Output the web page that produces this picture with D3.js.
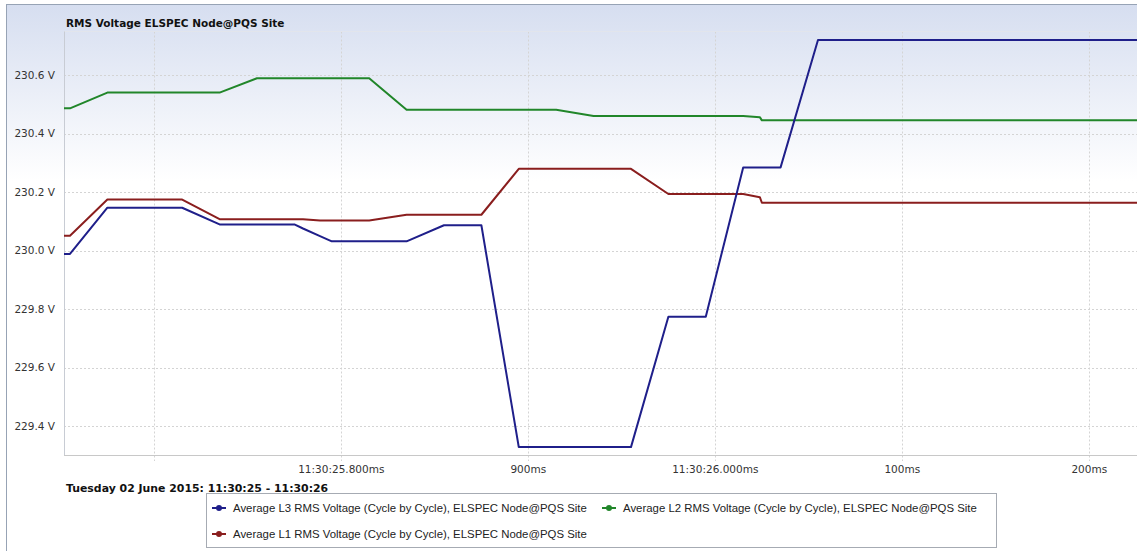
<!DOCTYPE html>
<html>
<head>
<meta charset="utf-8">
<script src="https://cdn.jsdelivr.net/npm/d3@7"></script>
<style>
  html, body { margin: 0; padding: 0; background: #fff; overflow: hidden; }
  #chart { width: 1137px; height: 551px; }
</style>
</head>
<body>
<div id="chart"></div>
<script>
////////////////////
// DATA (ms after 11:30:25, volts)

var times = [634.9, 654.9, 674.9, 694.9, 714.9, 734.9, 754.9, 774.9, 779.5, 788.6,
  794.9, 814.9, 834.9, 854.9, 874.9, 894.9, 914.9, 934.9, 954.9, 974.9,
  994.9, 1014.9, 1023.8, 1024.9, 1034.9, 1054.9, 1074.9, 1094.9, 1114.9, 1134.9,
  1154.9, 1174.9, 1194.9, 1214.9, 1234.9, 1254.9];

var l3Values = [229.989, 229.989, 230.147, 230.147, 230.147, 230.090, 230.090, 230.090, 230.076, 230.050,
  230.032, 230.032, 230.032, 230.087, 230.087, 229.328, 229.328, 229.328, 229.328, 229.774,
  229.774, 230.285, 230.285, 230.285, 230.285, 230.721, 230.721, 230.721, 230.721, 230.721,
  230.721, 230.721, 230.721, 230.721, 230.721, 230.721];

var l2Values = [230.487, 230.487, 230.541, 230.541, 230.541, 230.541, 230.590, 230.590, 230.590, 230.590,
  230.590, 230.590, 230.482, 230.482, 230.482, 230.482, 230.482, 230.461, 230.461, 230.461,
  230.461, 230.461, 230.457, 230.446, 230.446, 230.446, 230.446, 230.446, 230.446, 230.446,
  230.446, 230.446, 230.446, 230.446, 230.446, 230.446];

var l1Values = [230.051, 230.051, 230.175, 230.175, 230.175, 230.108, 230.108, 230.108, 230.108, 230.103,
  230.103, 230.103, 230.123, 230.123, 230.123, 230.280, 230.280, 230.280, 230.280, 230.194,
  230.194, 230.194, 230.183, 230.164, 230.164, 230.164, 230.164, 230.164, 230.164, 230.164,
  230.164, 230.164, 230.164, 230.164, 230.164, 230.164];

var yTicks = [229.4, 229.6, 229.8, 230.0, 230.2, 230.4, 230.6];
var xTicks = [700, 800, 900, 1000, 1100, 1200];
var xTickLabels = ["", "11:30:25.800ms", "900ms", "11:30:26.000ms", "100ms", "200ms"];

var seriesNames = [
  "Average L3 RMS Voltage (Cycle by Cycle), ELSPEC Node@PQS Site",
  "Average L2 RMS Voltage (Cycle by Cycle), ELSPEC Node@PQS Site",
  "Average L1 RMS Voltage (Cycle by Cycle), ELSPEC Node@PQS Site"
];
var seriesColors = ["#1f1f8a", "#21862a", "#8a1e1e"];

var title = "RMS Voltage ELSPEC Node@PQS Site";
var dateLabel = "Tuesday 02 June 2015: 11:30:25 - 11:30:26";

//////////////////
// LAYOUT
var w = 1137;
var h = 551;
var plot = {left: 64, right: 1137, top: 31.5, bottom: 455};
var axisFont = "'DejaVu Sans', Verdana, sans-serif";

var svg = d3.select("#chart")
  .append("svg")
  .attr("width", w)
  .attr("height", h);

var defs = svg.append("defs");
var grad = defs.append("linearGradient")
  .attr("id", "bg")
  .attr("x1", 0).attr("y1", 0)
  .attr("x2", 0).attr("y2", 1);
grad.append("stop").attr("offset", "0%").attr("stop-color", "#d6def0");
grad.append("stop").attr("offset", "32%").attr("stop-color", "#ffffff");
grad.append("stop").attr("offset", "100%").attr("stop-color", "#ffffff");

defs.append("clipPath").attr("id", "plotClip")
  .append("rect")
  .attr("x", plot.left)
  .attr("y", plot.top)
  .attr("width", plot.right - plot.left)
  .attr("height", plot.bottom - plot.top);

// outer frame
svg.append("rect")
  .attr("x", 6.5)
  .attr("y", 4.5)
  .attr("width", w)
  .attr("height", h)
  .attr("fill", "url(#bg)")
  .attr("stroke", "#97a3b5")
  .attr("stroke-width", 1);

//////////////////
// SCALES
var x = d3.scaleLinear()
  .domain([651.7, 1225.5])
  .range([plot.left, plot.right]);
var y = d3.scaleLinear()
  .domain([229.301, 230.750])
  .range([plot.bottom, plot.top]);

//////////////////
// GRID
var grid = svg.append("g");
grid.selectAll(".hgrid")
  .data(yTicks)
  .enter().append("line")
  .attr("x1", plot.left)
  .attr("x2", plot.right)
  .attr("y1", function(d) { return Math.round(y(d)) + 0.5; })
  .attr("y2", function(d) { return Math.round(y(d)) + 0.5; })
  .attr("stroke", "#d4d4d4")
  .attr("stroke-dasharray", "2,2");

grid.selectAll(".vgrid")
  .data(xTicks)
  .enter().append("line")
  .attr("x1", function(d) { return Math.round(x(d)) + 0.5; })
  .attr("x2", function(d) { return Math.round(x(d)) + 0.5; })
  .attr("y1", plot.top)
  .attr("y2", plot.bottom + 6)
  .attr("stroke", "#d4d4d4")
  .attr("stroke-dasharray", "2,2");

// plot border lines
svg.append("line")
  .attr("x1", plot.left).attr("x2", plot.right)
  .attr("y1", plot.top).attr("y2", plot.top)
  .attr("stroke", "#e2e5ec");
svg.append("line")
  .attr("x1", plot.left + 0.5).attr("x2", plot.left + 0.5)
  .attr("y1", plot.top).attr("y2", plot.bottom)
  .attr("stroke", "#c8ccd4");
svg.append("line")
  .attr("x1", plot.left).attr("x2", plot.right)
  .attr("y1", plot.bottom + 0.5).attr("y2", plot.bottom + 0.5)
  .attr("stroke", "#c8c8c8");

//////////////////
// AXES (labels only)
svg.append("g")
  .selectAll("text")
  .data(yTicks)
  .enter().append("text")
  .attr("x", 55)
  .attr("y", function(d) { return y(d); })
  .attr("dy", "0.35em")
  .attr("text-anchor", "end")
  .style("font-family", axisFont)
  .style("font-size", "10.5px")
  .style("fill", "#333")
  .text(function(d) { return d3.format(".1f")(d) + " V"; });

svg.append("g")
  .selectAll("text")
  .data(xTicks)
  .enter().append("text")
  .attr("x", function(d) { return x(d); })
  .attr("y", 469)
  .attr("dy", "0.35em")
  .attr("text-anchor", "middle")
  .style("font-family", axisFont)
  .style("font-size", "10.5px")
  .style("fill", "#333")
  .text(function(d, i) { return xTickLabels[i]; });

//////////////////
// LINES
var seriesValues = [l3Values, l2Values, l1Values];
var line = d3.line()
  .x(function(d, i) { return x(times[i]); })
  .y(function(d) { return y(d); });

var lines = svg.append("g").attr("clip-path", "url(#plotClip)");
[1, 2, 0].forEach(function(k) {
  lines.append("path")
    .attr("d", line(seriesValues[k]))
    .attr("fill", "none")
    .attr("stroke", seriesColors[k])
    .attr("stroke-width", 2)
    .attr("stroke-linejoin", "round");
});

//////////////////
// TEXTS
svg.append("text")
  .attr("x", 66)
  .attr("y", 23)
  .attr("dy", "0.35em")
  .style("font-family", axisFont)
  .style("font-weight", "bold")
  .style("font-size", "10.5px")
  .style("fill", "#111")
  .text(title);

svg.append("text")
  .attr("x", 66)
  .attr("y", 488)
  .attr("dy", "0.35em")
  .style("font-family", axisFont)
  .style("font-weight", "bold")
  .style("font-size", "10.9px")
  .style("fill", "#111")
  .text(dateLabel);

//////////////////
// LEGEND
var legend = svg.append("g");
legend.append("rect")
  .attr("x", 206.5)
  .attr("y", 493.5)
  .attr("width", 790)
  .attr("height", 54)
  .attr("fill", "#fff")
  .attr("stroke", "#a6abb3");

var legendPos = [[212, 508], [602, 508], [212, 534]];
var items = legend.selectAll(".item")
  .data(seriesNames)
  .enter().append("g")
  .attr("transform", function(d, i) {
    return "translate(" + legendPos[i][0] + "," + legendPos[i][1] + ")";
  });
items.append("line")
  .attr("x1", 0).attr("x2", 14)
  .attr("y1", 0).attr("y2", 0)
  .attr("stroke", function(d, i) { return seriesColors[i]; })
  .attr("stroke-width", 2);
items.append("circle")
  .attr("cx", 7)
  .attr("cy", 0)
  .attr("r", 3)
  .attr("fill", function(d, i) { return seriesColors[i]; });
items.append("text")
  .attr("x", 21)
  .attr("y", 0)
  .attr("dy", "0.35em")
  .style("font-family", "'Liberation Sans', Arial, sans-serif")
  .style("font-size", "11.4px")
  .style("fill", "#222")
  .text(function(d) { return d; });
</script>
</body>
</html>
